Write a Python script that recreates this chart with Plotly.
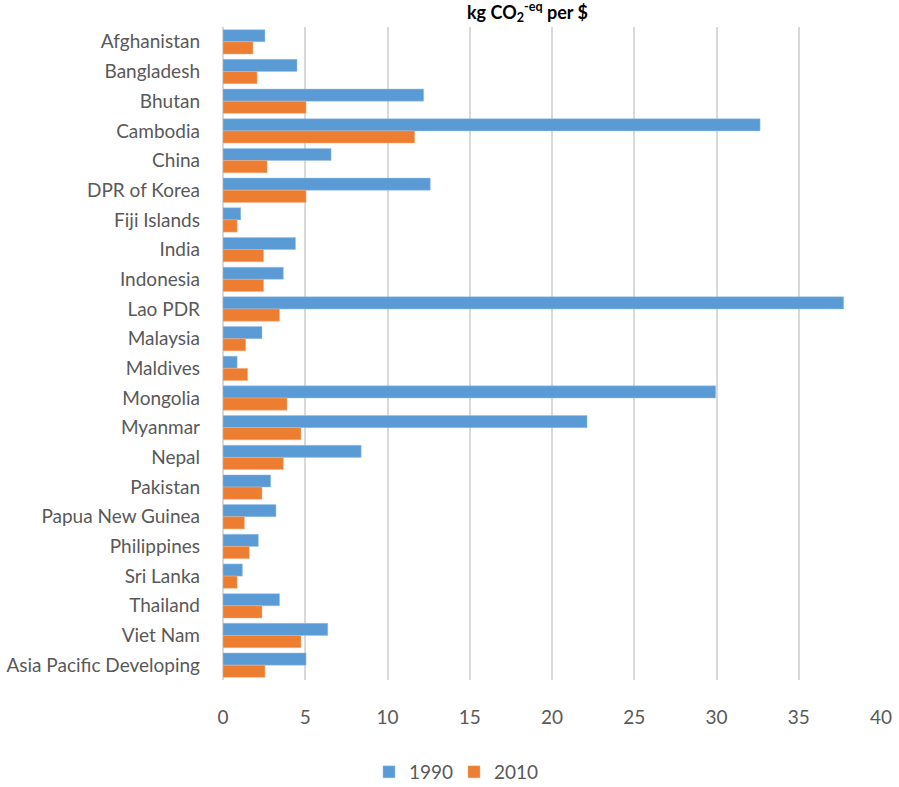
import plotly.graph_objects as go

countries = ["Afghanistan", "Bangladesh", "Bhutan", "Cambodia", "China", "DPR of Korea",
             "Fiji Islands", "India", "Indonesia", "Lao PDR", "Malaysia", "Maldives",
             "Mongolia", "Myanmar", "Nepal", "Pakistan", "Papua New Guinea", "Philippines",
             "Sri Lanka", "Thailand", "Viet Nam", "Asia Pacific Developing"]
values_1990 = [2.55, 4.5, 12.2, 32.65, 6.57, 12.6, 1.08, 4.41, 3.67, 37.73, 2.37, 0.86,
               29.95, 22.13, 8.4, 2.9, 3.22, 2.15, 1.18, 3.44, 6.37, 5.05]
values_2010 = [1.82, 2.07, 5.05, 11.65, 2.68, 5.05, 0.86, 2.47, 2.47, 3.44, 1.38, 1.5,
               3.89, 4.74, 3.67, 2.37, 1.3, 1.6, 0.86, 2.37, 4.74, 2.55]
x_ticks = [0, 5, 10, 15, 20, 25, 30, 35, 40]

FONT = "Lato"
GRAY = "#595959"
L, R, T, B = 223, 18, 27, 107
W, H = 899, 787
plot_w = W - L - R
plot_h = H - T - B

fig = go.Figure()
fig.add_trace(go.Bar(y=countries, x=values_1990, name="1990", orientation="h",
                     marker=dict(color="#5B9BD5", line=dict(color="#9DC3E6", width=0.5))))
fig.add_trace(go.Bar(y=countries, x=values_2010, name="2010", orientation="h",
                     marker=dict(color="#ED7D31", line=dict(color="#F4B183", width=0.5))))

fig.update_layout(
    width=W, height=H,
    margin=dict(l=L, r=R, t=T, b=B, autoexpand=False),
    paper_bgcolor="white", plot_bgcolor="white",
    barmode="group", bargap=0.18, bargroupgap=0,
    font=dict(family=FONT, color=GRAY, size=19),
    showlegend=True,
    legend=dict(orientation="h", xref="container", yref="container",
                x=454 / W, xanchor="center",
                y=1 - 772 / H, yanchor="middle",
                entrywidth=40, entrywidthmode="pixels",
                font=dict(size=19, color=GRAY), traceorder="normal"),
    xaxis=dict(range=[0, 40], tickvals=x_ticks, showgrid=True, gridcolor="#D9D9D9",
               gridwidth=2, zeroline=True, zerolinecolor="#D9D9D9", zerolinewidth=2,
               showline=False, automargin=False, ticklabelstandoff=24,
               tickfont=dict(size=19, color=GRAY)),
    yaxis=dict(autorange="reversed", showgrid=False, showline=False, automargin=False,
               ticklabelstandoff=22, tickfont=dict(size=19, color=GRAY)),
    annotations=[dict(text="<b>kg CO<sub>2</sub><sup>-eq</sup> per $</b>",
                      x=(527 - L) / plot_w, xref="paper", xanchor="center",
                      y=1 + (T - 12) / plot_h, yref="paper", yanchor="middle",
                      showarrow=False,
                      font=dict(size=18, color="black", family=FONT))],
)

fig.write_html("out.html", config={"displayModeBar": False},
               post_script="document.body.style.margin='0';")
